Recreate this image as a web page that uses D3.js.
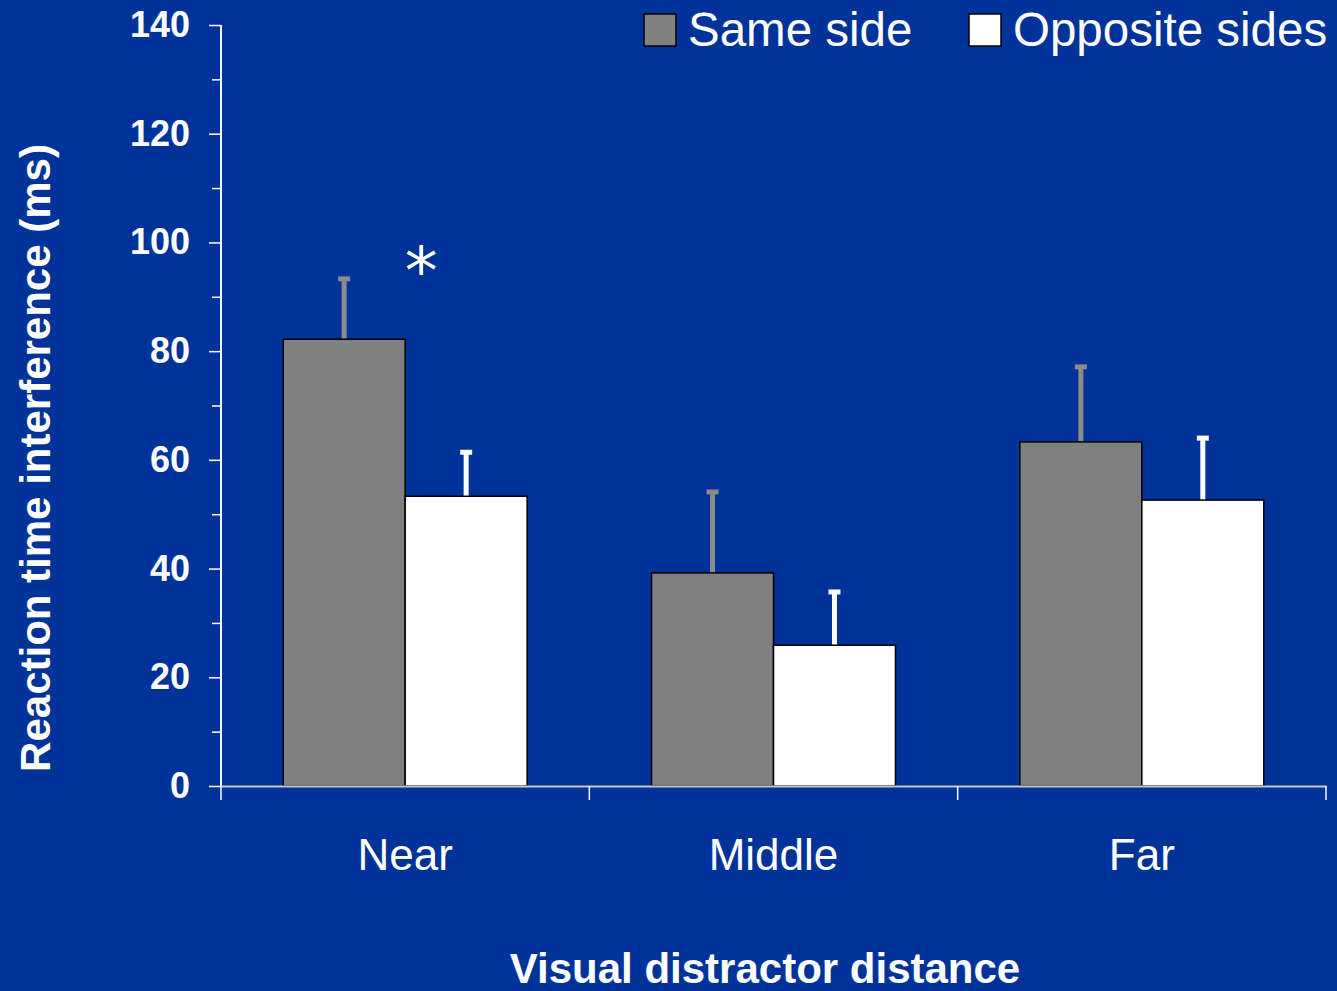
<!DOCTYPE html>
<html>
<head>
<meta charset="utf-8">
<script src="https://cdn.jsdelivr.net/npm/d3@7"></script>
<style>
  body { margin: 0; background: #003399; }
  svg { display: block; font-family: "Liberation Sans", Arial, sans-serif; }
</style>
</head>
<body>
<svg width="1337" height="991"></svg>
<script>
// Chart data.
const categories = ["Near", "Middle", "Far"];
const series = ["Same side", "Opposite sides"];
const sameSide = [82.2, 39.2, 63.3];
const sameSideErr = [11.1, 14.9, 13.8];
const oppositeSides = [53.3, 25.9, 52.6];
const oppositeSidesErr = [8.1, 9.8, 11.4];
const yTicks = [0, 20, 40, 60, 80, 100, 120, 140];
const significant = ["Near"];

const fills = { "Same side": "#808080", "Opposite sides": "#ffffff" };
const errColors = { "Same side": "#8c8c8c", "Opposite sides": "#ffffff" };

const svg = d3.select("svg");
svg.append("rect").attr("width", 1337).attr("height", 991).attr("fill", "#003399");

// Scales.
const y = d3.scaleLinear().domain([0, 140]).range([786, 25]);
const x0 = d3.scaleBand().domain(categories).range([221, 1326]);
const x1 = d3.scaleBand().domain(series).range([0, x0.bandwidth()]).paddingOuter(0.51);

const rows = categories.map((c, i) => ({
  cat: c,
  bars: [
    { s: "Same side", v: sameSide[i], e: sameSideErr[i] },
    { s: "Opposite sides", v: oppositeSides[i], e: oppositeSidesErr[i] }
  ]
}));

// Bars + error bars.
const g = svg.selectAll("g.group").data(rows).enter().append("g")
  .attr("class", "group")
  .attr("transform", d => `translate(${x0(d.cat)},0)`);

g.selectAll("line.err").data(d => d.bars).enter().append("line")
  .attr("x1", d => x1(d.s) + x1.bandwidth() / 2)
  .attr("x2", d => x1(d.s) + x1.bandwidth() / 2)
  .attr("y1", d => y(d.v))
  .attr("y2", d => y(d.v + d.e))
  .attr("stroke", d => errColors[d.s])
  .attr("stroke-width", 5);

g.selectAll("line.cap").data(d => d.bars).enter().append("line")
  .attr("x1", d => x1(d.s) + x1.bandwidth() / 2 - 6)
  .attr("x2", d => x1(d.s) + x1.bandwidth() / 2 + 6)
  .attr("y1", d => y(d.v + d.e))
  .attr("y2", d => y(d.v + d.e))
  .attr("stroke", d => errColors[d.s])
  .attr("stroke-width", 5);

g.selectAll("rect").data(d => d.bars).enter().append("rect")
  .attr("x", d => x1(d.s))
  .attr("y", d => y(d.v))
  .attr("width", x1.bandwidth())
  .attr("height", d => y(0) - y(d.v))
  .attr("fill", d => fills[d.s])
  .attr("stroke", "#000")
  .attr("stroke-width", 1.5);

// Significance marker.
svg.selectAll("text.sig").data(significant).enter().append("text")
  .attr("class", "sig")
  .attr("x", d => x0(d) + x0.bandwidth() / 2 + 16)
  .attr("y", y(97))
  .attr("text-anchor", "middle")
  .attr("font-family", "DejaVu Sans")
  .attr("font-size", 66)
  .attr("fill", "#fff")
  .attr("dy", "0.54em")
  .text("*");

// Y axis.
const yAxis = svg.append("g")
  .attr("transform", "translate(221,0)")
  .call(d3.axisLeft(y).tickValues(d3.range(0, 141, 10)).tickSize(9).tickFormat(d => yTicks.includes(d) ? d : ""));
yAxis.select(".domain").attr("stroke", "#fff").attr("stroke-width", 2).attr("d", "M0,786V25");
yAxis.selectAll(".tick line").attr("stroke", "#fff").attr("stroke-width", 1.5)
  .attr("x2", d => yTicks.includes(d) ? -12 : -9);
yAxis.selectAll(".tick text")
  .attr("x", -31)
  .attr("fill", "#fff")
  .attr("font-size", 36)
  .attr("font-weight", "bold");

// X axis.
const xAxis = svg.append("g")
  .attr("transform", "translate(0,786)")
  .call(d3.axisBottom(x0).tickSize(0).tickPadding(53));
xAxis.select(".domain").attr("stroke", "#c8c8c8").attr("stroke-width", 2);
xAxis.selectAll(".tick text").attr("fill", "#fff").attr("font-size", 44);
xAxis.selectAll("line.sep").data(categories.concat([null])).enter().append("line")
  .attr("class", "sep")
  .attr("x1", (d, i) => x0.range()[0] + i * x0.step())
  .attr("x2", (d, i) => x0.range()[0] + i * x0.step())
  .attr("y1", 0).attr("y2", 14)
  .attr("stroke", "#fff").attr("stroke-width", 1.5);

// Axis titles.
svg.append("text")
  .attr("transform", "translate(50,458) rotate(-90)")
  .attr("text-anchor", "middle")
  .attr("fill", "#fff")
  .attr("font-size", 42)
  .attr("font-weight", "bold")
  .text("Reaction time interference (ms)");

svg.append("text")
  .attr("x", 765)
  .attr("y", 983)
  .attr("text-anchor", "middle")
  .attr("fill", "#fff")
  .attr("font-size", 42)
  .attr("font-weight", "bold")
  .text("Visual distractor distance");

// Legend.
const legendX = [644, 969];
const legend = svg.selectAll("g.legend").data(series).enter().append("g")
  .attr("class", "legend")
  .attr("transform", (d, i) => `translate(${legendX[i]},14)`);
legend.append("rect")
  .attr("width", 32).attr("height", 32)
  .attr("fill", d => fills[d])
  .attr("stroke", "#000").attr("stroke-width", 1.5);
legend.append("text")
  .attr("x", 44).attr("y", 32)
  .attr("fill", "#fff")
  .attr("font-size", 47.5)
  .text(d => d);
</script>
</body>
</html>
